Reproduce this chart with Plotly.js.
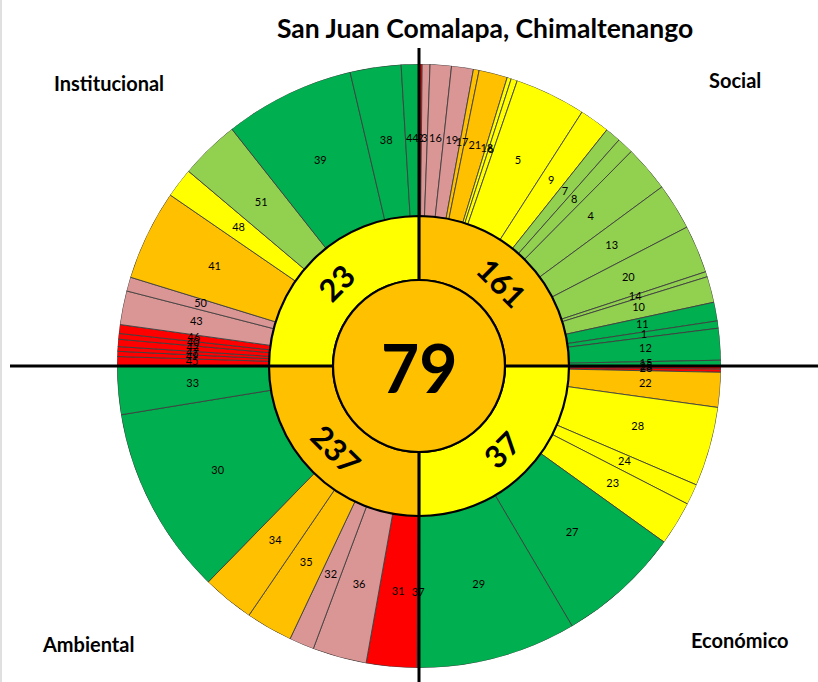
<!DOCTYPE html>
<html>
<head>
<meta charset="utf-8">
<script src="https://cdn.plot.ly/plotly-3.0.1.min.js"></script>
<style>html,body{margin:0;padding:0;background:#fff;}#chart{width:818px;height:682px;}</style>
</head>
<body>
<div id="chart"></div>
<script>
// ---------- DATA ----------
const chartTitle = 'San Juan Comalapa, Chimaltenango';
const totalValue = 79;
const totalLevel = 'orange';

const quadrantNames = ['Social', 'Económico', 'Ambiental', 'Institucional'];
const quadrantValues = [161, 37, 237, 23];
const quadrantLevels = ['orange', 'yellow', 'orange', 'yellow'];

// indicator ids, angular share (degrees of each 90° quadrant) and level, in clockwise order
const socialIds    = ['2','3','16','19','17','21','18','6','5','9','7','8','4','13','20','14','10','11','1','12','15'];
const socialShare  = [0.6,1.5,4.1,4.2,1.1,5.5,0.8,1.2,13.7,5.8,3.0,3.2,8.9,9.0,9.2,1.0,5.0,3.6,1.4,6.1,1.1];
const socialLevel  = ['red','pink','pink','pink','orange','orange','yellow','yellow','yellow','yellow',
                      'lgreen','lgreen','lgreen','lgreen','lgreen','lgreen','lgreen','green','green','green','green'];

const economicIds   = ['25','26','22','28','24','23','27','29'];
const economicShare = [0.6,0.6,6.7,15.3,4.0,8.5,23.8,30.5];
const economicLevel = ['red','red','orange','yellow','yellow','yellow','green','green'];

const ambientalIds   = ['37','31','36','32','35','34','30','33'];
const ambientalShare = [0.4,9.7,10.4,4.8,9.0,10.0,36.4,9.3];
const ambientalLevel = ['red','red','pink','pink','orange','orange','green','green'];

const instIds   = ['45','49','47','42','40','46','43','50','41','48','51','39','38','44'];
const instShare = [1.8,1.0,0.9,1.4,1.1,1.7,6.5,2.7,17.4,5.7,11.5,25.1,9.8,3.4];
const instLevel = ['red','red','red','red','red','red','pink','pink','orange','yellow','lgreen','green','green','green'];

const levelColors = {
  red: '#FF0000', pink: '#DA9694', orange: '#FFC000',
  yellow: '#FFFF00', lgreen: '#92D050', green: '#00B050'
};

// ---------- GEOMETRY (styling) ----------
const W = 818, H = 682;
const CX = 419, CY = 366, R = 302;      // polar centre & radius in px
const rCenter = 86, rRing = 150;        // radii in px (radial axis is in px units)
const rLabel = 227;

const groups = [
  {ids: socialIds, share: socialShare, level: socialLevel},
  {ids: economicIds, share: economicShare, level: economicLevel},
  {ids: ambientalIds, share: ambientalShare, level: ambientalLevel},
  {ids: instIds, share: instShare, level: instLevel}
];

const oTheta = [], oWidth = [], oColor = [], oText = [];
groups.forEach((g, qi) => {
  let start = qi * 90;
  g.share.forEach((w, i) => {
    oTheta.push(start + w / 2);
    oWidth.push(w);
    oColor.push(levelColors[g.level[i]]);
    oText.push(g.ids[i]);
    start += w;
  });
});

const traces = [];
// outer ring
traces.push({
  type: 'barpolar',
  r: oTheta.map(() => R - rRing),
  base: rRing,
  theta: oTheta,
  width: oWidth,
  marker: {color: oColor, line: {color: '#404040', width: 0.9}},
  hoverinfo: 'text', text: oText
});
// inner ring (quadrants)
traces.push({
  type: 'barpolar',
  r: quadrantValues.map(() => rRing - rCenter),
  base: rCenter,
  theta: quadrantValues.map((v, i) => 45 + 90 * i),
  width: quadrantValues.map(() => 90),
  marker: {color: quadrantLevels.map(l => levelColors[l]), line: {color: '#000', width: 2.2}},
  hoverinfo: 'text', text: quadrantNames.map((n, i) => n + ': ' + quadrantValues[i])
});
// centre
traces.push({
  type: 'barpolar',
  r: [rCenter, rCenter, rCenter, rCenter],
  theta: [45, 135, 225, 315],
  width: [90, 90, 90, 90],
  marker: {color: levelColors[totalLevel], line: {color: levelColors[totalLevel], width: 0}},
  hoverinfo: 'skip'
});
// outer labels
traces.push({
  type: 'scatterpolar',
  mode: 'text',
  r: oTheta.map(() => rLabel),
  theta: oTheta,
  text: oText,
  textfont: {family: 'Lato, Open Sans, sans-serif', size: 11, color: '#000'},
  hoverinfo: 'skip'
});

const px = x => x / W;
const py = y => 1 - y / H;
function polarToPaper(r, deg) {
  const a = deg * Math.PI / 180;
  return {x: px(CX + r * Math.sin(a)), y: py(CY - r * Math.cos(a))};
}
function ann(text, x, y, size, angle) {
  return {text: text, x: x, y: y, xref: 'paper', yref: 'paper', showarrow: false,
    xanchor: 'center', yanchor: 'middle', textangle: angle || 0,
    font: {family: 'Lato, sans-serif', size: size, color: '#000'}};
}

const annotations = [];
annotations.push(ann('<b>' + chartTitle + '</b>', px(485), py(28), 26.5));
const cornerPos = [[735, 80], [740, 640], [88, 644], [109, 83]];
quadrantNames.forEach((n, i) => {
  annotations.push(ann('<b>' + n + '</b>', px(cornerPos[i][0]), py(cornerPos[i][1]), 20));
});
quadrantValues.forEach((v, i) => {
  const p = polarToPaper((rCenter + rRing) / 2, 45 + 90 * i);
  annotations.push(ann('<b>' + v + '</b>', p.x, p.y, 31, (i % 2 === 0) ? 45 : -45));
});
annotations.push(ann('<b>' + totalValue + '</b>', px(CX), py(CY + 1), 66));

const lineStyle = {color: '#000', width: 3};
const shapes = [
  {type: 'line', xref: 'paper', yref: 'paper', x0: px(10), x1: px(CX - rCenter), y0: py(CY), y1: py(CY), line: lineStyle},
  {type: 'line', xref: 'paper', yref: 'paper', x0: px(CX + rCenter), x1: px(W), y0: py(CY), y1: py(CY), line: lineStyle},
  {type: 'line', xref: 'paper', yref: 'paper', x0: px(CX), x1: px(CX), y0: py(48), y1: py(CY - rCenter), line: lineStyle},
  {type: 'line', xref: 'paper', yref: 'paper', x0: px(CX), x1: px(CX), y0: py(CY + rCenter), y1: py(H), line: lineStyle},
  {type: 'circle', xref: 'paper', yref: 'paper', x0: px(CX - rCenter), x1: px(CX + rCenter),
   y0: py(CY + rCenter), y1: py(CY - rCenter), line: {color: '#000', width: 2.2}, fillcolor: 'rgba(0,0,0,0)'},
  {type: 'line', xref: 'paper', yref: 'paper', x0: px(1), x1: px(1), y0: 0, y1: 1, line: {color: '#c0c0c0', width: 1}}
];

const layout = {
  width: W, height: H,
  margin: {l: 0, r: 0, t: 0, b: 0},
  paper_bgcolor: '#fff',
  showlegend: false,
  polar: {
    domain: {x: [px(CX - R), px(CX + R)], y: [py(CY + R), py(CY - R)]},
    bgcolor: 'rgba(0,0,0,0)',
    bargap: 0,
    radialaxis: {visible: false, range: [0, R]},
    angularaxis: {rotation: 90, direction: 'clockwise', showgrid: false, showline: false,
                  showticklabels: false, ticks: ''}
  },
  annotations: annotations,
  shapes: shapes
};

Plotly.newPlot('chart', traces, layout, {displayModeBar: false, staticPlot: true});
</script>
</body>
</html>
